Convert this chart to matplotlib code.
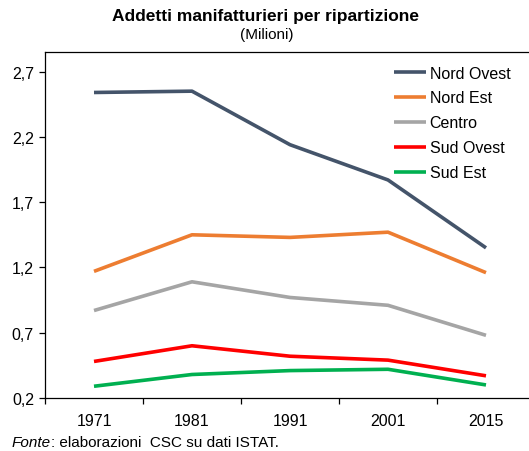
import numpy as np
import matplotlib
matplotlib.use('Agg')
import matplotlib.pyplot as plt

plt.rcParams['font.family'] = ['Liberation Sans', 'DejaVu Sans']

# dati (milioni di addetti)
anni = ['1971', '1981', '1991', '2001', '2015']
nord_ovest = [2.54, 2.55, 2.14, 1.87, 1.35]
nord_est = [1.17, 1.45, 1.43, 1.47, 1.16]
centro = [0.87, 1.09, 0.97, 0.91, 0.68]
sud_ovest = [0.48, 0.60, 0.52, 0.49, 0.37]
sud_est = [0.29, 0.38, 0.41, 0.42, 0.30]

serie = [('Nord Ovest', nord_ovest, '#44546A'),
         ('Nord Est', nord_est, '#ED7D31'),
         ('Centro', centro, '#A5A5A5'),
         ('Sud Ovest', sud_ovest, '#FF0000'),
         ('Sud Est', sud_est, '#00B050')]

W, H = 529, 452
fig = plt.figure(figsize=(W / 100, H / 100), dpi=100)
ax = fig.add_axes([45 / W, 1 - 399 / H, 490 / W, (399 - 53) / H])

x = np.arange(len(anni))
for nome, vals, col in serie:
    ax.plot(x, vals, color=col, linewidth=2.6, label=nome, solid_capstyle='butt')

ax.set_xlim(-0.5, len(anni) - 0.5)
ax.set_ylim(0.2, 2.2 + 0.5 * 1.3)
yt = [0.2, 0.7, 1.2, 1.7, 2.2, 2.7]
ax.set_yticks(yt)
ax.set_yticklabels([('%.1f' % v).replace('.', ',') for v in yt], fontsize=11.5)
ax.set_xticks(x)
ax.set_xticklabels(anni, fontsize=11.5)
ax.set_xticks(np.arange(-0.5, len(anni) + 0.5, 1), minor=True)
ax.tick_params(axis='x', which='major', length=0, pad=11)
ax.tick_params(axis='x', which='minor', length=4, width=0.9, direction='out')
ax.tick_params(axis='y', length=4, width=0.9, direction='out', pad=4)
for s in ax.spines.values():
    s.set_linewidth(0.9)
ax.spines['right'].set_visible(False)

leg = ax.legend(loc='upper left', bbox_to_anchor=(335 / 490, 1.0), frameon=False,
                fontsize=11.5, handlelength=2.0, handletextpad=0.25, labelspacing=0.62,
                borderaxespad=0.45)

fig.text(265 / W, 1 - 16 / H, 'Addetti manifatturieri per ripartizione', ha='center',
         va='center', fontsize=12.5, fontweight='bold')
fig.text(267 / W, 1 - 35 / H, '(Milioni)', ha='center', va='center', fontsize=11)

t = fig.text(12 / W, 1 - 443 / H, 'Fonte', fontsize=11, style='italic', va='center')
ax.annotate(': elaborazioni  CSC su dati ISTAT.', xy=(1, 0.5), xycoords=t,
            va='center', ha='left', fontsize=11, annotation_clip=False)

fig.savefig('out.png', dpi=100)
